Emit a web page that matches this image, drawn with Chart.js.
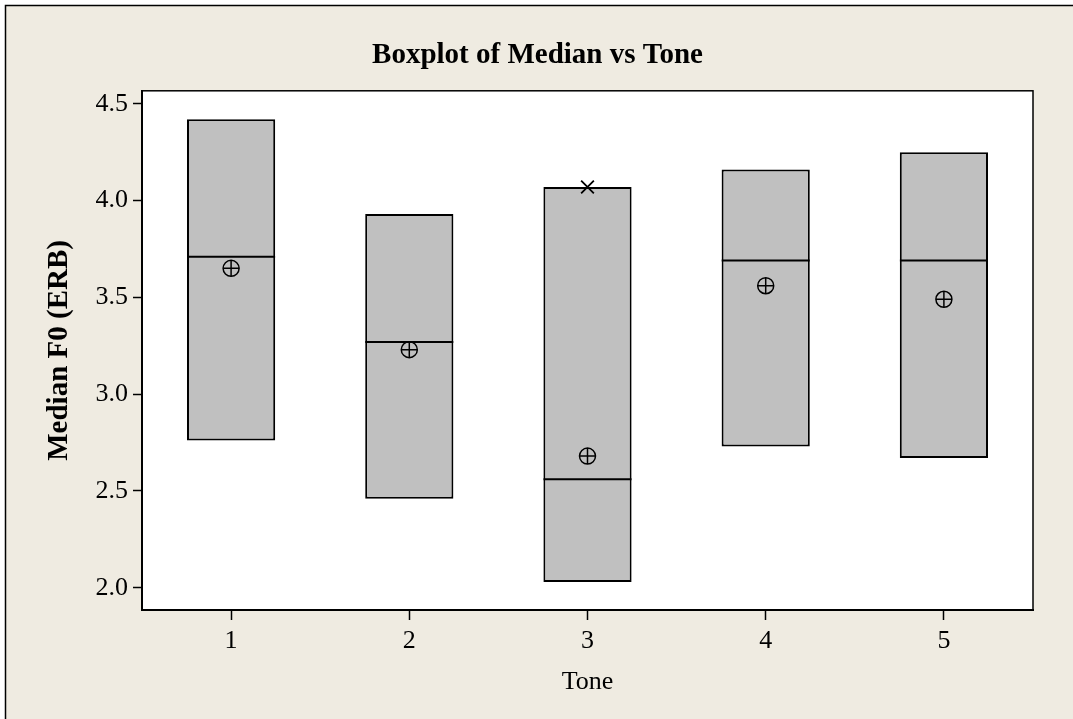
<!DOCTYPE html>
<html>
<head>
<meta charset="utf-8">
<script src="https://cdn.jsdelivr.net/npm/chart.js@4"></script>
<style>
  html, body { margin: 0; padding: 0; background: #ffffff; overflow: hidden; }
  #chart { display: block; }
</style>
</head>
<body>
<canvas id="chart" width="1073" height="719"></canvas>
<script>
const tones = ["1", "2", "3", "4", "5"];
const q1 = [2.76, 2.46, 2.03, 2.73, 2.67];
const q3 = [4.42, 3.93, 4.07, 4.16, 4.25];
const medians = [3.71, 3.27, 2.56, 3.69, 3.69];
const means = [3.65, 3.23, 2.68, 3.56, 3.49];
const outliers = [null, null, 4.07, null, null];

const serif = "'Liberation Serif', 'Times New Roman', serif";

// beige page with its frame, white plot area with a full border
const plotFrame = {
  id: "plotFrame",
  beforeDraw(chart) {
    const a = chart.chartArea;
    const ctx = chart.ctx;
    ctx.save();
    ctx.fillStyle = "#ffffff";
    ctx.fillRect(0, 0, chart.width, chart.height);
    ctx.fillStyle = "#efebe1";
    ctx.fillRect(5, 5, chart.width - 5, chart.height - 5);
    ctx.strokeStyle = "#000";
    ctx.lineWidth = 1.5;
    ctx.beginPath();
    ctx.moveTo(5.5, chart.height);
    ctx.lineTo(5.5, 5.5);
    ctx.lineTo(chart.width, 5.5);
    ctx.stroke();
    ctx.fillStyle = "#ffffff";
    ctx.fillRect(a.left, a.top, a.right - a.left, a.bottom - a.top);
    ctx.restore();
  },
  afterDraw(chart) {
    const a = chart.chartArea;
    const ctx = chart.ctx;
    ctx.save();
    ctx.strokeStyle = "#000";
    ctx.lineWidth = 1.5;
    ctx.strokeRect(a.left, a.top, a.right - a.left, a.bottom - a.top);
    ctx.restore();
  },
};

const markerSet = (data, style, radius, width) => ({
  type: "line",
  data: data,
  showLine: false,
  pointStyle: style,
  pointRadius: radius,
  pointHoverRadius: radius,
  pointBorderWidth: width,
  pointHoverBorderWidth: width,
  pointBorderColor: "#000",
  pointBackgroundColor: "rgba(0,0,0,0)",
  order: 0,
});

new Chart(document.getElementById("chart"), {
  type: "bar",
  data: {
    labels: tones,
    datasets: [
      {
        data: tones.map((t, i) => [q1[i], q3[i]]),
        backgroundColor: "#c0c0c0",
        borderColor: "#000",
        borderWidth: 2,
        borderSkipped: false,
        barPercentage: 0.495,
        categoryPercentage: 1,
        order: 10,
      },
      markerSet(medians, "line", 44, 2),
      markerSet(means, "circle", 8, 1.5),
      markerSet(means, "cross", 8, 1.5),
      markerSet(outliers, "crossRot", 9, 1.8),
    ],
  },
  options: {
    responsive: false,
    animation: false,
    events: [],
    layout: { autoPadding: false, padding: { top: 0, left: 42, right: 40, bottom: 0 } },
    plugins: {
      legend: { display: false },
      tooltip: { enabled: false },
      title: {
        display: true,
        text: "Boxplot of Median vs Tone",
        color: "#000",
        font: { family: serif, size: 29, weight: "bold" },
        padding: { top: 38, bottom: 18 },
      },
    },
    scales: {
      x: {
        offset: true,
        afterFit: (axis) => { axis.height = 109; },
        grid: {
          offset: false,
          drawOnChartArea: false,
          drawTicks: true,
          tickLength: 10,
          tickColor: "#000",
          tickWidth: 1.5,
        },
        border: { display: true, color: "#000", width: 2 },
        ticks: { color: "#000", padding: 6, font: { family: serif, size: 26 } },
        title: {
          display: true,
          text: "Tone",
          color: "#000",
          font: { family: serif, size: 26 },
          padding: { top: 0, bottom: 21 },
        },
      },
      y: {
        min: 1.885,
        max: 4.567,
        afterFit: (axis) => { axis.width = 100; },
        grid: {
          drawOnChartArea: false,
          drawTicks: true,
          tickLength: 9,
          tickColor: "#000",
          tickWidth: 1.5,
        },
        border: { display: true, color: "#000", width: 2 },
        ticks: {
          stepSize: 0.5,
          includeBounds: false,
          color: "#000",
          padding: 5,
          font: { family: serif, size: 26 },
          callback: (v) => Number(v).toFixed(1),
        },
        title: {
          display: true,
          text: "Median F0 (ERB)",
          color: "#000",
          font: { family: serif, size: 29, weight: "bold" },
          padding: { top: 0, bottom: 0 },
        },
      },
    },
  },
  plugins: [plotFrame],
});
</script>
</body>
</html>
